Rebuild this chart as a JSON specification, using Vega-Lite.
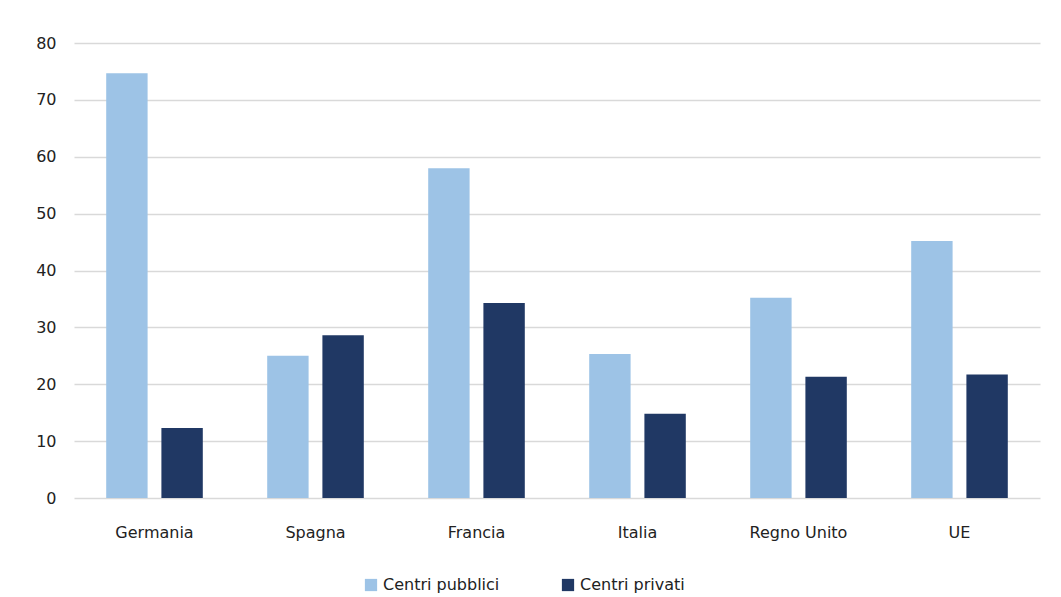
{
  "$schema": "https://vega.github.io/schema/vega-lite/v6.json",
  "width": 966,
  "height": 455,
  "autosize": {"type": "none"},
  "padding": {"left": 74, "top": 43, "right": 21, "bottom": 99},
  "background": "white",
  "config": {
    "view": {"stroke": null},
    "font": "DejaVu Sans",
    "axis": {"labelFont": "DejaVu Sans", "labelColor": "#222222", "labelFontSize": 16}
  },
  "data": {
    "values": [
      {"paese": "Germania", "tipo": "Centri pubblici", "valore": 74.7},
      {"paese": "Germania", "tipo": "Centri privati", "valore": 12.3},
      {"paese": "Spagna", "tipo": "Centri pubblici", "valore": 25.0},
      {"paese": "Spagna", "tipo": "Centri privati", "valore": 28.6},
      {"paese": "Francia", "tipo": "Centri pubblici", "valore": 58.0},
      {"paese": "Francia", "tipo": "Centri privati", "valore": 34.3},
      {"paese": "Italia", "tipo": "Centri pubblici", "valore": 25.3},
      {"paese": "Italia", "tipo": "Centri privati", "valore": 14.8},
      {"paese": "Regno Unito", "tipo": "Centri pubblici", "valore": 35.2},
      {"paese": "Regno Unito", "tipo": "Centri privati", "valore": 21.3},
      {"paese": "UE", "tipo": "Centri pubblici", "valore": 45.2},
      {"paese": "UE", "tipo": "Centri privati", "valore": 21.7}
    ]
  },
  "mark": {"type": "bar"},
  "encoding": {
    "x": {
      "field": "paese",
      "type": "nominal",
      "sort": ["Germania", "Spagna", "Francia", "Italia", "Regno Unito", "UE"],
      "scale": {"paddingInner": 0.4, "paddingOuter": 0.2},
      "axis": {"title": null, "labelAngle": 0, "ticks": false, "domain": false, "labelPadding": 26, "labelFontSize": 16}
    },
    "xOffset": {
      "field": "tipo",
      "type": "nominal",
      "sort": ["Centri pubblici", "Centri privati"],
      "scale": {"paddingInner": 0.25}
    },
    "y": {
      "field": "valore",
      "type": "quantitative",
      "scale": {"domain": [0, 80], "nice": false},
      "axis": {
        "title": null,
        "values": [0, 10, 20, 30, 40, 50, 60, 70, 80],
        "ticks": false,
        "domain": false,
        "gridColor": "#d9d9d9",
        "gridWidth": 1.5,
        "labelPadding": 18,
        "labelFontSize": 16
      }
    },
    "color": {
      "field": "tipo",
      "type": "nominal",
      "sort": ["Centri pubblici", "Centri privati"],
      "scale": {"domain": ["Centri pubblici", "Centri privati"], "range": ["#9dc3e6", "#203864"]},
      "legend": {
        "title": null,
        "orient": "none",
        "legendX": 289,
        "legendY": 534,
        "direction": "horizontal",
        "symbolType": "square",
        "symbolSize": 150,
        "symbolStrokeWidth": 0,
        "labelFontSize": 16,
        "labelColor": "#222222",
        "columnPadding": 60,
        "labelOffset": 4
      }
    }
  }
}
